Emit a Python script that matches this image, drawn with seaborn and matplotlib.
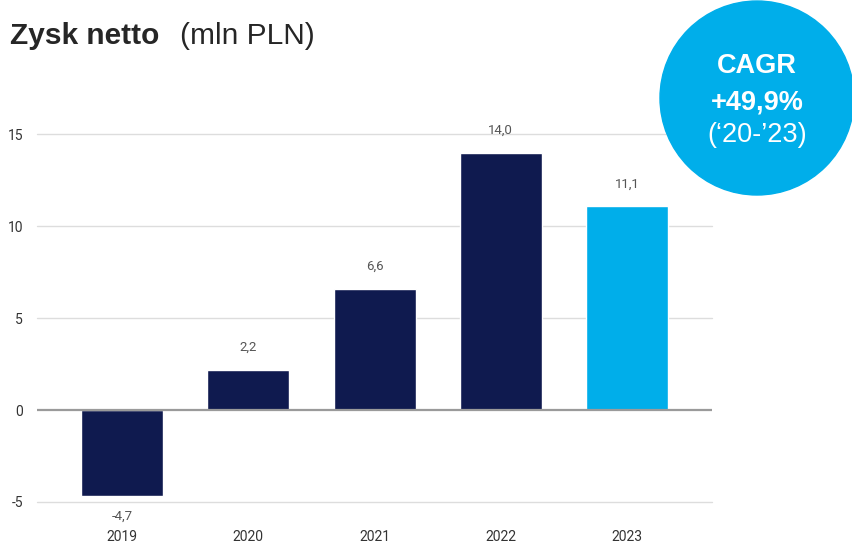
import pandas as pd
import matplotlib.pyplot as plt
import seaborn as sns
from matplotlib.patches import Circle

years = ["2019", "2020", "2021", "2022", "2023"]
profit = [-4.7, 2.2, 6.6, 14.0, 11.1]
labels = ["-4,7", "2,2", "6,6", "14,0", "11,1"]
bar_colors = ["#0f1a4f", "#0f1a4f", "#0f1a4f", "#0f1a4f", "#00aeea"]
yticks = [-5, 0, 5, 10, 15]

df = pd.DataFrame({"Rok": years, "Zysk": profit})

sns.set_theme(style="white")
plt.rcParams["font.family"] = ["Roboto", "DejaVu Sans"]

fig = plt.figure(figsize=(8.53, 5.46), dpi=100)
ax = fig.add_axes([0.0434, 0.0806, 0.7913, 0.6905])

sns.barplot(df, x="Rok", y="Zysk", hue="Rok", palette=bar_colors, legend=False,
            width=0.65, saturation=1, ax=ax)

ax.set_ylim(-5, 15.5)
ax.set_xlim(-0.675, 4.675)
ax.set_yticks(yticks)
ax.set_yticklabels([str(t) for t in yticks])
for t in yticks:
    if t == 0:
        ax.axhline(0, color="#9a9a9a", linewidth=1.6, zorder=3)
    else:
        ax.axhline(t, color="#dddddd", linewidth=1, zorder=0, clip_on=False)
for s in ax.spines.values():
    s.set_visible(False)
ax.set_xlabel("")
ax.set_ylabel("")
ax.tick_params(axis="y", length=0, pad=10, labelsize=10, labelcolor="#333333")
ax.tick_params(axis="x", length=0, pad=20, labelsize=10, labelcolor="#333333")

for i, (v, lab) in enumerate(zip(profit, labels)):
    y = v + 1.2 if v >= 0 else v - 1.1
    ax.text(i, y, lab, ha="center", va="center", fontsize=9.5, color="#555555",
            clip_on=False)

fig.text(0.012, 1 - 36 / 546, "Zysk netto", fontsize=21.5, fontweight="bold",
         family="Liberation Sans", va="center", ha="left")
fig.text(180 / 853, 1 - 36 / 546, "(mln PLN)", fontsize=21.5, family="Liberation Sans",
         va="center", ha="left")

circ = Circle((757, 546 - 98), 97, transform=None, color="#00aeea", zorder=5)
fig.patches.append(circ)
fig.text(757 / 853, 1 - 66 / 546, "CAGR", fontsize=19.5, fontweight="bold",
         color="white", family="Liberation Sans", ha="center", va="center", zorder=6)
fig.text(757 / 853, 1 - 102 / 546, "+49,9%", fontsize=19.5, fontweight="bold",
         color="white", family="Liberation Sans", ha="center", va="center", zorder=6)
fig.text(757 / 853, 1 - 135 / 546, "(\u201820-\u201923)", fontsize=19.5,
         color="white", family="Liberation Sans", ha="center", va="center", zorder=6)

fig.savefig("out.png", dpi=100)
